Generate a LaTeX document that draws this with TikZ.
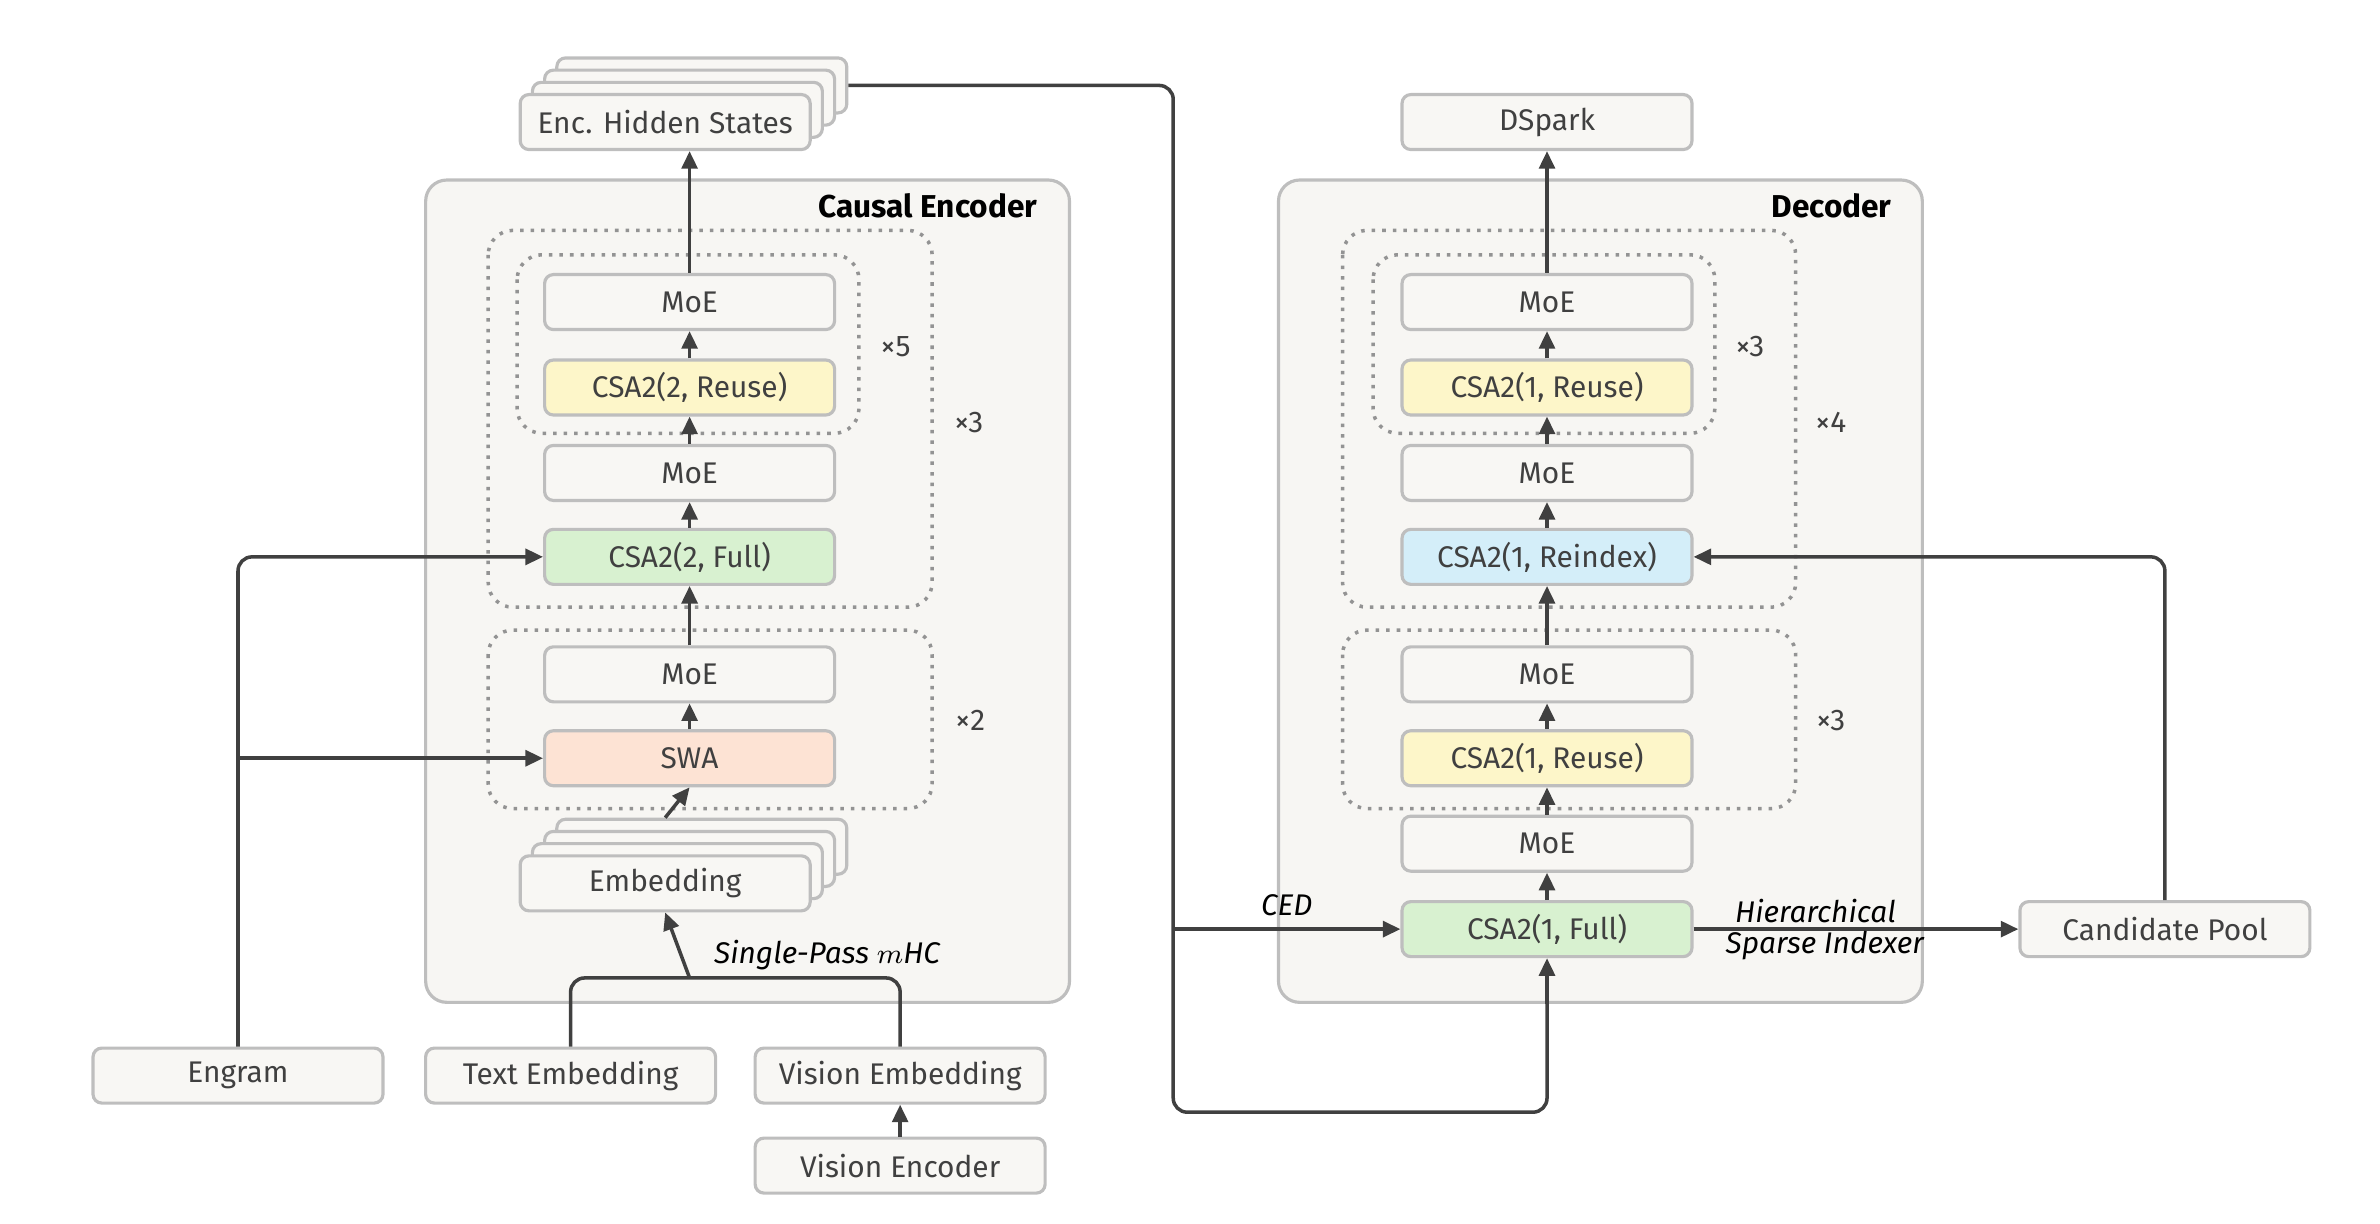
\documentclass[tikz,border=0pt]{standalone}
\usepackage{fontspec}
\setmainfont{Fira Sans}
\usetikzlibrary{arrows.meta}
\usetikzlibrary{calc}
\definecolor{boxbg}{RGB}{248, 247, 244}
\definecolor{panel}{RGB}{247, 246, 243}
\definecolor{edge1}{RGB}{190, 190, 190}
\definecolor{ink}{RGB}{64, 64, 64}
\definecolor{green1}{RGB}{216, 241, 208}
\definecolor{yellow1}{RGB}{253, 246, 201}
\definecolor{peach1}{RGB}{253, 227, 212}
\definecolor{blue1}{RGB}{212, 238, 249}

\begin{document}
\begin{tikzpicture}[x=0.015256cm, y=-0.015256cm, font=\fontsize{8.5}{10}\selectfont\color{ink},
  blk/.style={draw=edge1, line width=0.9pt, fill=boxbg, rounded corners=2.5pt, minimum width=2.9cm, minimum height=0.55cm, inner sep=0pt},
  frame/.style={draw=edge1, line width=0.9pt, fill=panel, rounded corners=6pt},
  rep/.style={draw=gray!85, line width=1pt, dotted, rounded corners=7pt},
  arr/.style={draw=ink, line width=1pt, -{Triangle[length=5pt,width=4.5pt]}},
  wire/.style={draw=ink, line width=1pt, rounded corners=4pt},
  lbl/.style={font=\fontsize{8.5}{10}\selectfont\itshape}]
  \useasboundingbox (0,0) rectangle (1560,802);

  % panels
  \draw[frame] (279,118) rectangle (701,657);
  \draw[frame] (838,118) rectangle (1260,657);
  \node[anchor=east, font=\fontsize{9}{10}\selectfont\bfseries] (enctitle) at (688,135) {Causal Encoder};
  \node[anchor=east, font=\fontsize{9}{10}\selectfont\bfseries] (dectitle) at (1248,135) {Decoder};

  % repeat groups
  \draw[rep] (320,151) rectangle (611,398);
  \draw[rep] (339,167) rectangle (563,284);
  \draw[rep] (320,413) rectangle (611,530);
  \draw[rep] (880,151) rectangle (1177,398);
  \draw[rep] (900,167) rectangle (1124,284);
  \draw[rep] (880,413) rectangle (1177,530);
  \node (x5) at (587,227) {×5};
  \node (x3a) at (635,277) {×3};
  \node (x2) at (636,472) {×2};
  \node (x3b) at (1147,227) {×3};
  \node (x4) at (1200,277) {×4};
  \node (x3c) at (1200,472) {×3};

  % encoder
  \node[blk] (emoe1) at (452,198) {MoE};
  \node[blk, fill=yellow1] (ereuse) at (452,254) {CSA2(2, Reuse)};
  \node[blk] (emoe2) at (452,310) {MoE};
  \node[blk, fill=green1] (efull) at (452,365) {CSA2(2, Full)};
  \node[blk] (emoe3) at (452,442) {MoE};
  \node[blk, fill=peach1] (swa) at (452,497) {SWA};
  \foreach \k in {3,2,1}
    \node[blk] (emb\k) at (436+8*\k,579-8*\k) {};
  \node[blk] (emb) at (436,579) {Embedding};
  \foreach \k in {3,2,1}
    \node[blk] (hid\k) at (436+8*\k,80-8*\k) {};
  \node[blk] (hid) at (436,80) {Enc. Hidden States};

  \node[blk] (engram) at (156,705) {Engram};
  \node[blk] (txt) at (374,705) {Text Embedding};
  \node[blk] (vemb) at (590,705) {Vision Embedding};
  \node[blk] (venc) at (590,764) {Vision Encoder};

  % decoder
  \node[blk] (dspark) at (1014,80) {DSpark};
  \node[blk] (dmoe1) at (1014,198) {MoE};
  \node[blk, fill=yellow1] (dreuse1) at (1014,254) {CSA2(1, Reuse)};
  \node[blk] (dmoe2) at (1014,310) {MoE};
  \node[blk, fill=blue1] (dreidx) at (1014,365) {CSA2(1, Reindex)};
  \node[blk] (dmoe3) at (1014,442) {MoE};
  \node[blk, fill=yellow1] (dreuse2) at (1014,497) {CSA2(1, Reuse)};
  \node[blk] (dmoe4) at (1014,553) {MoE};
  \node[blk, fill=green1] (dfull) at (1014,609) {CSA2(1, Full)};
  \node[blk] (pool) at (1419,609) {Candidate Pool};

  % encoder flow
  \draw[arr] (emb.north |- emb3.north) -- (swa.south);
  \foreach \from/\to in {swa/emoe3, emoe3/efull, efull/emoe2, emoe2/ereuse, ereuse/emoe1}
    \draw[arr] (\from) -- (\to);
  \draw[arr] (emoe1.north) -- (emoe1.north |- hid.south);
  \draw[arr, rounded corners=4pt] (engram.north) |- (efull.west);
  \draw[arr] (engram.north |- swa.west) -- (swa.west);
  \coordinate (mj) at (452,641);
  \draw[wire] (txt.north) |- (vemb.north |- mj) -- (vemb.north);
  \draw[arr] (mj) -- (emb.south);
  \node[anchor=west, lbl] (spm) at (460,626) {Single-Pass $m$HC};
  \draw[arr] (venc) -- (vemb);

  % decoder flow
  \foreach \from/\to in {dfull/dmoe4, dmoe4/dreuse2, dreuse2/dmoe3, dmoe3/dreidx, dreidx/dmoe2, dmoe2/dreuse1, dreuse1/dmoe1, dmoe1/dspark}
    \draw[arr] (\from) -- (\to);
  \coordinate (ced) at (769,609);
  \coordinate (bend) at (769,729);
  \draw[wire] (hid3.east) -| (bend) -| ($(dfull.south)+(0,30)$);
  \draw[arr] ($(dfull.south)+(0,30)$) -- (dfull.south);
  \draw[arr] (ced) -- (dfull.west) node[midway, above, lbl] {CED};
  \draw[arr] (dfull.east) -- (pool.west);
  \node[lbl] (hier) at (1190,597) {Hierarchical};
  \node[lbl] (spidx) at (1196,620) {Sparse Indexer};
  \draw[arr, rounded corners=4pt] (pool.north) |- (dreidx.east);
\end{tikzpicture}
\end{document}
